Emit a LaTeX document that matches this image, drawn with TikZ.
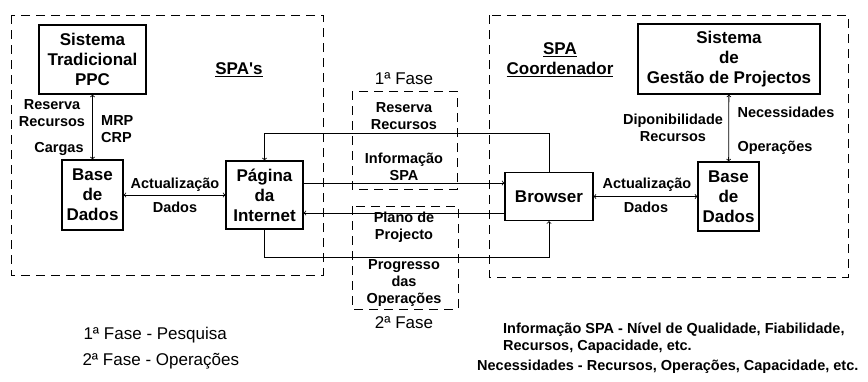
\documentclass[tikz,border=0pt]{standalone}
\usepackage{fontspec}
\setmainfont{Liberation Sans}
\newcommand\boxfont{\fontsize{17}{20}\selectfont\bfseries}
\newcommand\lblfont{\fontsize{14.5}{17}\selectfont\bfseries}
\newcommand\fasefont{\fontsize{17}{20}\selectfont}

\begin{document}
\begin{tikzpicture}[x=1pt,y=-1pt,
		box/.style={draw,line width=1.2pt,align=center,inner sep=0pt,font=\boxfont},
		lbl/.style={align=center,inner sep=0pt,font=\lblfont},
		frame/.style={dash pattern=on 9pt off 6pt,line width=0.9pt},
		link/.style={line width=0.8pt}]
		\useasboundingbox (0,0) rectangle (868,381);
		% the two systems and the two phases
		\draw[frame] (11,15) rectangle (323,275);
		\draw[frame] (489,15) rectangle (848,277);
		\draw[frame] (352,91) rectangle (457,189);
		\draw[frame] (352,206) rectangle (458,309);
		\node[font=\fasefont] (f1) at (404,79) {1ª Fase};
		\node[font=\fasefont] (f2) at (404,323) {2ª Fase};
		% left side
		\node[box,minimum width=107pt,minimum height=69pt] (ppc) at (92.5,59.5) {Sistema\\Tradicional\\PPC};
		\node[box,minimum width=61pt,minimum height=70pt] (bd1) at (92.5,195) {Base\\de\\Dados};
		\node[box,minimum width=77pt,minimum height=68pt] (pag) at (264.5,195) {Página\\da\\Internet};
		\node[font=\boxfont] (spas) at (239,70) {\underline{SPA\textquotesingle s}};
		\node[lbl] (resrec) at (52,113) {Reserva\\Recursos};
		\node[lbl] (carg) at (59,149) {Cargas};
		\node[lbl,align=left,anchor=west] (mrp) at (101,129.5) {MRP\\CRP};
		\node[lbl] (act1) at (175,185) {Actualização};
		\node[lbl] (dad1) at (175,207) {Dados};
		% right side
		\node[box,minimum width=182pt,minimum height=70pt] (sgp) at (729,59) {Sistema\\de\\Gestão de Projectos};
		\node[box,minimum width=61pt,minimum height=69pt] (bd2) at (728.5,196.5) {Base\\de\\Dados};
		\node[box,minimum width=88pt,minimum height=48pt] (brw) at (549,196.5) {Browser};
		\node[font=\boxfont,align=center] (coord) at (560,60) {\underline{SPA}\\\underline{Coordenador}};
		\node[lbl] (dispo) at (673,128) {Diponibilidade\\Recursos};
		\node[lbl] (nec) at (786,112) {Necessidades};
		\node[lbl] (oper) at (775,148) {Operações};
		\node[lbl] (act2) at (647,185) {Actualização};
		\node[lbl] (dad2) at (646,207) {Dados};
		% flows through the internet
		\node[lbl] (res) at (404,116) {Reserva\\Recursos};
		\node[lbl] (inf) at (404,167) {Informação\\SPA};
		\node[lbl] (plano) at (404,227) {Plano de\\Projecto};
		\node[lbl] (prog) at (404,283) {Progresso\\das\\Operações};
		\coordinate (top) at (0,133);
		\coordinate (up) at (0,183);
		\coordinate (dn) at (0,213);
		\coordinate (bot) at (0,257);
		\draw[link,<->] (ppc) -- (bd1);
		\draw[link,<->] (bd1) -- (pag);
		\draw[link,<->] (sgp) -- (bd2);
		\draw[link,<->] (brw) -- (bd2);
		\draw[link,->] (brw.north) -- (brw.north |- top) -- (pag.north |- top) -- (pag.north);
		\draw[link,->] (pag.east |- up) -- (brw.west |- up);
		\draw[link,->] (brw.west |- dn) -- (pag.east |- dn);
		\draw[link,->] (pag.south) -- (pag.south |- bot) -- (brw.south |- bot) -- (brw.south);
		% legend
		\node[font=\fasefont,anchor=west] (leg1) at (80,335) {1ª Fase - Pesquisa};
		\node[font=\fasefont,anchor=west] (leg2) at (79,361) {2ª Fase - Operações};
		\node[lbl,align=left,anchor=west] (legi) at (503,338.5) {Informação SPA - Nível de Qualidade, Fiabilidade,\\Recursos, Capacidade, etc.};
		\node[lbl,anchor=west] (legn) at (477,367) {Necessidades - Recursos, Operações, Capacidade, etc.};
	\end{tikzpicture}
\end{document}
